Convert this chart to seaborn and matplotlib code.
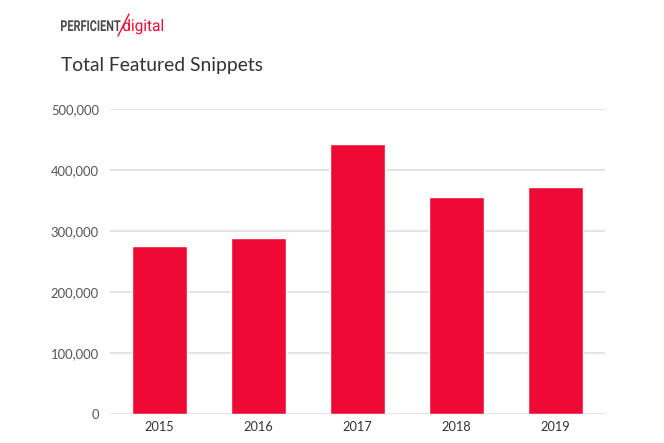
import pandas as pd
import numpy as np
import matplotlib
matplotlib.use("Agg")
import matplotlib.pyplot as plt
import seaborn as sns
from matplotlib.textpath import TextPath
from matplotlib.patches import PathPatch
from matplotlib.font_manager import FontProperties
from matplotlib.transforms import Affine2D, IdentityTransform

# DATA
years = ["2015", "2016", "2017", "2018", "2019"]
snippets = [275000, 288000, 442000, 356000, 372000]
y_ticks = [0, 100000, 200000, 300000, 400000, 500000]

df = pd.DataFrame({"Year": years, "Snippets": snippets})

bar_red = "#EE0A35"
W, H = 664, 443

sns.set_style("white")
plt.rcParams["font.family"] = ["Lato", "DejaVu Sans"]

fig = plt.figure(figsize=(6.64, 4.43), dpi=100)
ax = fig.add_axes([110 / W, 29.3 / H, 495 / W, 304.7 / H])

sns.barplot(data=df, x="Year", y="Snippets", color=bar_red, width=0.56,
            saturation=1, ax=ax, zorder=3)

ax.set_ylim(0, 500000)
ax.set_xlim(-0.5, 4.5)
ax.set_yticks(y_ticks)
ax.set_yticklabels([f"{v:,}" for v in y_ticks])
ax.yaxis.grid(True, color="#dddddd", lw=1.1, zorder=0)
ax.set_axisbelow(True)
for s in ax.spines.values():
    s.set_visible(False)
ax.set_xlabel("")
ax.set_ylabel("")
ax.tick_params(axis="y", length=0, pad=8, labelsize=9.4, labelcolor="#555555")
ax.tick_params(axis="x", length=0, pad=5, labelsize=9.2, labelcolor="#333333")

# title
fig.text(61 / W, 1 - 70.5 / H, "Total Featured Snippets", fontsize=13.9,
         color="#333333", ha="left", va="baseline")


# logo: text squeezed to the logo's box (pixel coords, top-left origin)
def logo_text(s, x0, x1, top, base, color, weight):
    p = TextPath((0, 0), s, size=20, prop=FontProperties(family="Roboto", weight=weight))
    ext = p.get_extents()
    sx = (x1 - x0) / ext.width
    sy = (base - top) / ext.height if s.isupper() else (base - top) / (ext.y1)
    tr = Affine2D().translate(-ext.x0, 0).scale(sx, sy).translate(x0, H - base)
    fig.add_artist(PathPatch(tr.transform_path(p), facecolor=color, edgecolor="none",
                             transform=IdentityTransform()))


logo_text("PERFICIENT", 61, 120.5, 20, 31, "#4a4a4a", "bold")
logo_text("digital", 123, 163, 19, 31, bar_red, "normal")
fig.add_artist(plt.Line2D([118, 129], [H - 36, H - 14], color=bar_red, lw=1.0,
                          transform=IdentityTransform()))

plt.savefig("out.png", dpi=100)
